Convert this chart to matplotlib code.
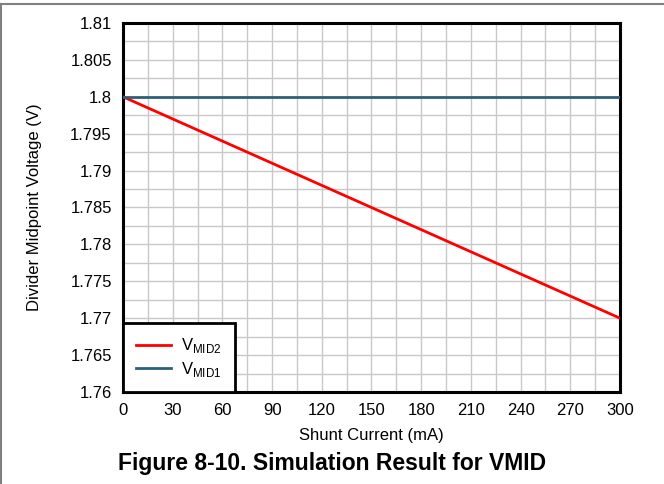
import matplotlib.pyplot as plt
import numpy as np
from matplotlib.lines import Line2D
from matplotlib.ticker import MultipleLocator

plt.rcParams['font.family'] = ['Liberation Sans', 'DejaVu Sans']

# data
current_ma = [0, 300]
vmid2 = [1.800, 1.770]
vmid1 = [1.800, 1.800]

x_ticks = [0, 30, 60, 90, 120, 150, 180, 210, 240, 270, 300]
y_ticks = [1.76, 1.765, 1.77, 1.775, 1.78, 1.785, 1.79, 1.795, 1.8, 1.805, 1.81]
y_labels = ['1.76', '1.765', '1.77', '1.775', '1.78', '1.785', '1.79', '1.795', '1.8', '1.805', '1.81']

fig = plt.figure(figsize=(6.64, 4.84), dpi=100)
ax = fig.add_axes([0.1852, 0.1901, 0.7485, 0.7624])

ax.plot(current_ma, vmid2, color='#ff0000', linewidth=2, label=r'V$_{\mathregular{MID2}}$', zorder=3)
ax.plot(current_ma, vmid1, color='#2f5f78', linewidth=2, label=r'V$_{\mathregular{MID1}}$', zorder=3)

ax.set_xlim(0, 300)
ax.set_ylim(1.76, 1.81)
ax.set_xticks(x_ticks)
ax.set_yticks(y_ticks)
ax.set_yticklabels(y_labels)
ax.xaxis.set_minor_locator(MultipleLocator(15))
ax.yaxis.set_minor_locator(MultipleLocator(0.0025))
ax.grid(True, which='both', color='#c8c8c8', linewidth=1)
ax.set_axisbelow(True)
ax.tick_params(which='both', length=0, labelsize=12, pad=8)

for s in ax.spines.values():
    s.set_linewidth(2.2)
    s.set_color('black')

ax.set_xlabel('Shunt Current (mA)', fontsize=12, labelpad=7)
ax.set_ylabel('Divider Midpoint Voltage (V)', fontsize=12, labelpad=20)

leg = ax.legend(loc='lower left', fontsize=12, frameon=True, fancybox=False,
                borderaxespad=0, handlelength=2.1, handletextpad=0.6,
                labelspacing=0.25, borderpad=0.8)
leg.get_frame().set_edgecolor('black')
leg.get_frame().set_linewidth(2)
leg.get_frame().set_alpha(1)

fig.text(0.5, 0.043, 'Figure 8-10. Simulation Result for VMID', ha='center', va='center',
         fontsize=16.5, fontweight='bold')

# page border lines (top and left)
fig.add_artist(Line2D([0, 1], [0.991, 0.991], transform=fig.transFigure, color='#808080', linewidth=1.5))
fig.add_artist(Line2D([0.002, 0.002], [0, 0.991], transform=fig.transFigure, color='#808080', linewidth=1.5))

fig.savefig('out.png', dpi=100)
